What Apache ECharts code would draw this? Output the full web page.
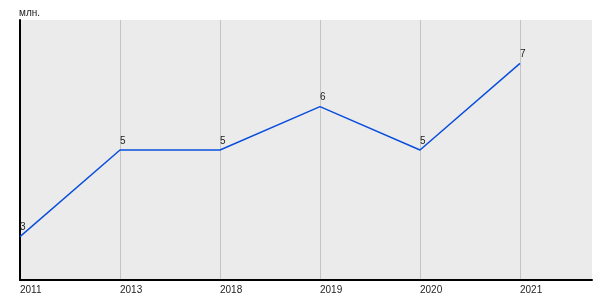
<!DOCTYPE html>
<html><head><meta charset="utf-8">
<script src="https://cdn.jsdelivr.net/npm/echarts@6/dist/echarts.min.js"></script>
<style>html,body{margin:0;padding:0;background:#fff}#c{width:600px;height:300px}</style>
</head><body><div id="c"></div>
<script>
const categories = ['2011','2013','2018','2019','2020','2021'];
const values = [3, 5, 5, 6, 5, 7];
const unitLabel = 'млн.';

const chart = echarts.init(document.getElementById('c'), null, {renderer:'canvas'});
chart.setOption({
  animation: false,
  grid: {left: 20, right: 8, top: 20, bottom: 20, show: true, backgroundColor: '#ebebeb', borderWidth: 0},
  xAxis: {
    type: 'value', min: 0, max: 5.72, interval: 1,
    axisLine: {show: true, lineStyle: {color: '#000', width: 2}},
    axisTick: {show: false},
    axisLabel: {
      color: '#222', fontSize: 10, fontFamily: 'Liberation Sans, Arial, sans-serif', align: 'left', margin: 5,
      formatter: v => Number.isInteger(v) ? (categories[v] || '') : ''
    },
    splitLine: {show: true, showMinLine: false, showMaxLine: false, lineStyle: {color: '#c4c4c4', width: 1}}
  },
  yAxis: {
    type: 'value', min: 2, max: 8,
    name: unitLabel, nameLocation: 'end', nameGap: 2,
    nameTextStyle: {color: '#222', fontSize: 10, fontFamily: 'Liberation Sans, Arial, sans-serif', align: 'left', padding: [0,0,0,-1]},
    axisLine: {show: true, lineStyle: {color: '#000', width: 2}},
    axisTick: {show: false},
    axisLabel: {show: false},
    splitLine: {show: false}
  },
  series: [{
    type: 'line',
    data: values.map((v, i) => [i, v]),
    showSymbol: true, symbol: 'circle', symbolSize: 0.1,
    itemStyle: {color: '#0a4fdc', opacity: 0},
    lineStyle: {color: '#0a4fdc', width: 1.5},
    label: {show: true, position: 'top', align: 'left', distance: 4, opacity: 1,
      color: '#222', fontSize: 10, fontFamily: 'Liberation Sans, Arial, sans-serif',
      formatter: p => String(p.value[1])}
  }]
});
</script></body></html>
